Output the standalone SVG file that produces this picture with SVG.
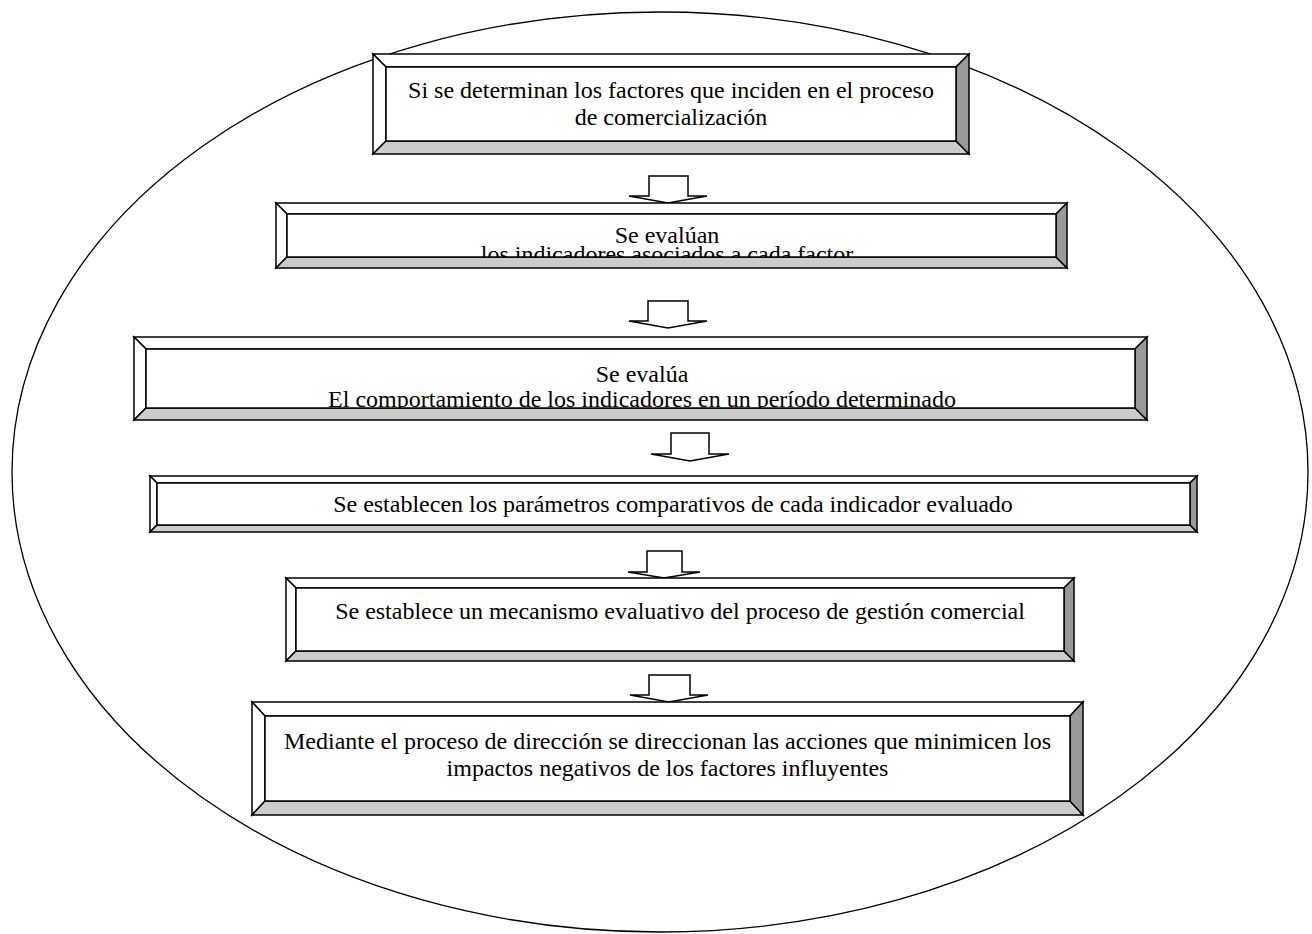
<svg xmlns="http://www.w3.org/2000/svg" width="1312" height="934" viewBox="0 0 1312 934">
<style>
.frame{fill:none;stroke:#000;stroke-width:1.3}
.lt{fill:#fff;stroke:#000;stroke-width:1.5;stroke-linejoin:miter}
.bt{fill:#cccccc;stroke:#000;stroke-width:1.5}
.rt{fill:#999999;stroke:#000;stroke-width:1.5}
.in{fill:#fff;stroke:#000;stroke-width:1.5}
.arr{fill:#fff;stroke:#000;stroke-width:1.5;stroke-linejoin:miter}
text{font-family:"Liberation Serif","Times New Roman",serif;font-size:24px;fill:#000;text-anchor:middle}
</style>
<defs>
<clipPath id="c2"><rect x="287" y="214" width="769" height="43"/></clipPath>
<clipPath id="c3"><rect x="146" y="349" width="989" height="59"/></clipPath>
</defs>
<rect width="1312" height="934" fill="#fff"/>
<ellipse class="frame" cx="660" cy="472" rx="648" ry="460"/>

<g id="connectors">
<polygon class="arr" points="649,176 688,176 688,196 707,196 668,203 629,196 649,196"/>
<polygon class="arr" points="648,301 688,301 688,321 707,321 668,328 629,321 648,321"/>
<polygon class="arr" points="671,433 709,433 709,454 729,454 690,461 651,454 671,454"/>
<polygon class="arr" points="647,551 682,551 682,572 700,572 664,578 628,572 647,572"/>
<polygon class="arr" points="649,675 690,675 690,695 708,695 669,702 630,695 649,695"/>
</g>

<g id="n1">
<polygon class="lt" points="373,54 969,54 956,67 386,67"/>
<polygon class="lt" points="373,54 386,67 386,141 373,154"/>
<polygon class="bt" points="373,154 386,141 956,141 969,154"/>
<polygon class="rt" points="969,54 969,154 956,141 956,67"/>
<rect class="in" x="386" y="67" width="570" height="74"/>
<text x="671" y="98">Si se determinan los factores que inciden en el proceso</text>
<text x="671" y="125">de comercialización</text>
</g>

<g id="n2">
<polygon class="lt" points="276,203 1067,203 1056,214 287,214"/>
<polygon class="lt" points="276,203 287,214 287,257 276,268"/>
<polygon class="bt" points="276,268 287,257 1056,257 1067,268"/>
<polygon class="rt" points="1067,203 1067,268 1056,257 1056,214"/>
<rect class="in" x="287" y="214" width="769" height="43"/>
<g clip-path="url(#c2)">
<text x="667" y="243">Se evalúan</text>
<text x="667" y="262">los indicadores asociados a cada factor</text>
</g>
</g>

<g id="n3">
<polygon class="lt" points="134,337 1147,337 1135,349 146,349"/>
<polygon class="lt" points="134,337 146,349 146,408 134,420"/>
<polygon class="bt" points="134,420 146,408 1135,408 1147,420"/>
<polygon class="rt" points="1147,337 1147,420 1135,408 1135,349"/>
<rect class="in" x="146" y="349" width="989" height="59"/>
<g clip-path="url(#c3)">
<text x="642" y="382">Se evalúa</text>
<text x="642" y="407">El comportamiento de los indicadores en un período determinado</text>
</g>
</g>

<g id="n4">
<polygon class="lt" points="150,476 1197,476 1190,483 157,483"/>
<polygon class="lt" points="150,476 157,483 157,525 150,532"/>
<polygon class="bt" points="150,532 157,525 1190,525 1197,532"/>
<polygon class="rt" points="1197,476 1197,532 1190,525 1190,483"/>
<rect class="in" x="157" y="483" width="1033" height="42"/>
<text x="673" y="512">Se establecen los parámetros comparativos de cada indicador evaluado</text>
</g>

<g id="n5">
<polygon class="lt" points="286,578 1074,578 1064,588 296,588"/>
<polygon class="lt" points="286,578 296,588 296,651 286,661"/>
<polygon class="bt" points="286,661 296,651 1064,651 1074,661"/>
<polygon class="rt" points="1074,578 1074,661 1064,651 1064,588"/>
<rect class="in" x="296" y="588" width="768" height="63"/>
<text x="680" y="619">Se establece un mecanismo evaluativo del proceso de gestión comercial</text>
</g>

<g id="n6">
<polygon class="lt" points="252,702 1083,702 1070,716 265,716"/>
<polygon class="lt" points="252,702 265,716 265,801 252,815"/>
<polygon class="bt" points="252,815 265,801 1070,801 1083,815"/>
<polygon class="rt" points="1083,702 1083,815 1070,801 1070,716"/>
<rect class="in" x="265" y="716" width="805" height="85"/>
<text x="667.5" y="749">Mediante el proceso de dirección se direccionan las acciones que minimicen los</text>
<text x="667.5" y="776">impactos negativos de los factores influyentes</text>
</g>
</svg>
